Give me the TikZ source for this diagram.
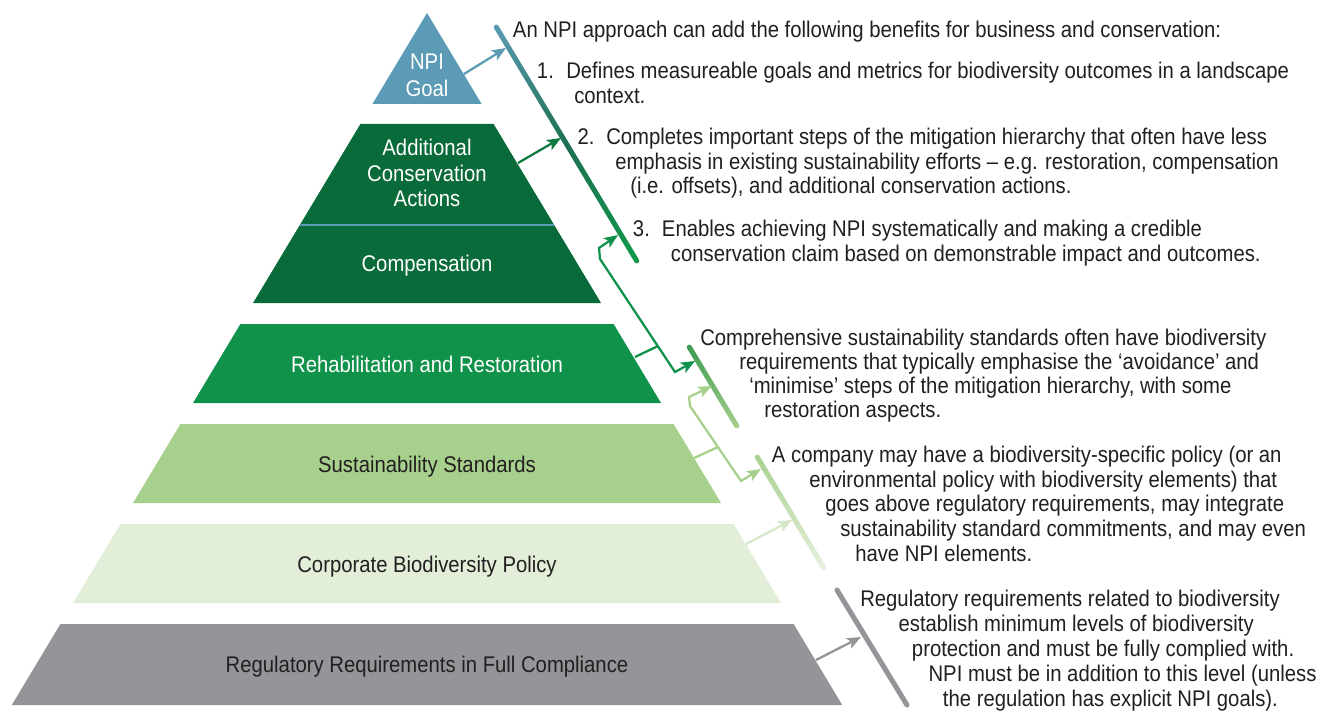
\documentclass[tikz,border=0pt]{standalone}
\usepackage{fontspec}
\setmainfont{Liberation Sans}[FakeStretch=0.895]
\usetikzlibrary{arrows.meta,calc}
\definecolor{npiblue}{HTML}{5B9BB5}
\definecolor{darkgreen}{HTML}{0A6B3A}
\definecolor{midgreen}{HTML}{11924A}
\definecolor{lightgreen}{HTML}{A8D08D}
\definecolor{palegreen}{HTML}{E2EED8}
\definecolor{regray}{HTML}{939598}
\definecolor{textcol}{HTML}{231F20}
\definecolor{arrgreen}{HTML}{0E7A41}
\definecolor{arrpale}{HTML}{D6E7C8}
\definecolor{bartopgreen}{HTML}{3A9A50}
\definecolor{barmid}{HTML}{1C7050}
\definecolor{barbot}{HTML}{109A4B}
\definecolor{barpale}{HTML}{E8F1DF}
\newcommand{\gradbar}[3]{\shade[#3,rounded corners=1.8pt]
  ($(#1)!1.9pt!90:(#2)$) -- ($(#2)!1.9pt!-90:(#1)$) --
  ($(#2)!1.9pt!90:(#1)$) -- ($(#1)!1.9pt!-90:(#2)$) -- cycle;}
\tikzset{
  txt/.style={font=\fontsize{17}{20}\selectfont, text=textcol, inner sep=0pt, anchor=base west},
  plab/.style={font=\fontsize{17}{20}\selectfont, inner sep=0pt, anchor=base},
  conn/.style={line width=1.7pt, -{Stealth[length=10.5pt,width=8.5pt,inset=2.5pt]}},
  conn2/.style={line width=1.7pt, {Stealth[length=10.5pt,width=8.5pt,inset=2.5pt]}-{Stealth[length=10.5pt,width=8.5pt,inset=2.5pt]}},
  plain/.style={line width=1.7pt}
}
\begin{document}
\begin{tikzpicture}[x=0.75pt,y=-0.75pt]
\useasboundingbox (0,0) rectangle (1328,713);
\fill[white] (0,0) rectangle (1328,713);

% pyramid layers
\fill[npiblue] (427,13) -- (481.6,104) -- (372.4,104) -- cycle;
\fill[darkgreen] (360.4,124) -- (493.6,124) -- (601.0,303) -- (253.0,303) -- cycle;
\draw[npiblue, line width=1.6pt] (299.8,225) -- (554.2,225);
\fill[midgreen] (240.4,324) -- (613.6,324) -- (661.0,403) -- (193.0,403) -- cycle;
\fill[lightgreen] (180.4,424) -- (673.6,424) -- (721.0,503) -- (133.0,503) -- cycle;
\fill[palegreen] (120.4,524) -- (733.6,524) -- (781.0,603) -- (73.0,603) -- cycle;
\fill[regray] (60.4,624) -- (793.6,624) -- (842.2,705) -- (11.8,705) -- cycle;

% pyramid labels
\node[plab, text=white] (lnpi1) at (427,70) {NPI};
\node[plab, text=white] (lnpi2) at (427,97) {Goal};
\node[plab, text=white] (ladd1) at (427,156) {Additional};
\node[plab, text=white] (ladd2) at (427,181) {Conservation};
\node[plab, text=white] (ladd3) at (427,206) {Actions};
\node[plab, text=white] (lcomp) at (427,272) {Compensation};
\node[plab, text=white] (lreh) at (427,372) {Rehabilitation and Restoration};
\node[plab, text=textcol] (lsus) at (427,472) {Sustainability Standards};
\node[plab, text=textcol] (lcorp) at (427,572) {Corporate Biodiversity Policy};
\node[plab, text=textcol] (lreg) at (427,672) {Regulatory Requirements in Full Compliance};

% bars
\coordinate (b1t) at (495,25);  \coordinate (b1b) at (638,263);
\coordinate (b2t) at (688,345); \coordinate (b2b) at (738,428);
\coordinate (b3t) at (756,455); \coordinate (b3b) at (825,570);
\coordinate (b4t) at (837,590); \coordinate (b4b) at (907,705);
\gradbar{b1t}{b1b}{top color=npiblue,bottom color=barbot,middle color=barmid}
\gradbar{b2t}{b2b}{top color=bartopgreen,bottom color=lightgreen}
\gradbar{b3t}{b3b}{top color=lightgreen,bottom color=barpale}
\draw[regray, line width=3.8pt, line cap=round] (b4t) -- (b4b);

% connector points
\coordinate (npiR) at (464,74);   \coordinate (t0) at (506,48);
\coordinate (addR) at (518,163);  \coordinate (tA) at (561,138);
\coordinate (t1a) at (618,235);   \coordinate (e1a) at (599,248);
\coordinate (e1m) at (600,259);   \coordinate (e1b) at (675,372);
\coordinate (t1b) at (695,361);
\coordinate (rehR) at (635,357);  \coordinate (j1) at (658,346);
\coordinate (t2a) at (712,386);   \coordinate (e2a) at (689,397);
\coordinate (e2m) at (690,406);   \coordinate (e2b) at (741,481);
\coordinate (t2b) at (761,469);
\coordinate (susR) at (694,458);  \coordinate (j2) at (718,447);
\coordinate (corR) at (746,544);  \coordinate (tC) at (792,520);
\coordinate (regR) at (816,660);  \coordinate (tR) at (861,637);

\draw[conn, npiblue] (npiR) -- (t0);
\draw[conn, arrgreen] (addR) -- (tA);
\draw[conn2, midgreen] (t1a) -- (e1a) -- (e1m) -- (e1b) -- (t1b);
\draw[plain, midgreen] (rehR) -- (j1);
\draw[conn2, lightgreen] (t2a) -- (e2a) -- (e2m) -- (e2b) -- (t2b);
\draw[plain, lightgreen] (susR) -- (j2);
\draw[conn, arrpale] (corR) -- (tC);
\draw[conn, regray] (regR) -- (tR);

% text block A
\node[txt] (a0) at (512.7,38) {An NPI approach can add the following benefits for business and conservation:};
\node[txt] (a1n) at (536.7,79) {1.};
\node[txt] (a1) at (566,79) {Defines measureable goals and metrics for biodiversity outcomes in a landscape};
\node[txt] (a1b) at (574,104) {context.};
\node[txt] (a2n) at (577.3,145) {2.};
\node[txt] (a2) at (606,145) {Completes important steps of the mitigation hierarchy that often have less};
\node[txt] (a2b) at (615,169.5) {emphasis in existing sustainability efforts – e.g. restoration, compensation};
\node[txt] (a2c) at (630,194) {(i.e. offsets), and additional conservation actions.};
\node[txt] (a3n) at (632.7,237) {3.};
\node[txt] (a3) at (661.7,237) {Enables achieving NPI systematically and making a credible};
\node[txt] (a3b) at (670.7,262) {conservation claim based on demonstrable impact and outcomes.};

% text block B
\node[txt] (b1) at (700,345) {Comprehensive sustainability standards often have biodiversity};
\node[txt] (b2) at (739,369) {requirements that typically emphasise the ‘avoidance’ and};
\node[txt] (b3) at (749,393) {‘minimise’ steps of the mitigation hierarchy, with some};
\node[txt] (b4) at (764,417) {restoration aspects.};

% text block C
\node[txt] (c1) at (771.7,462) {A company may have a biodiversity-specific policy (or an};
\node[txt] (c2) at (809,487.5) {environmental policy with biodiversity elements) that};
\node[txt] (c3) at (825,511.5) {goes above regulatory requirements, may integrate};
\node[txt] (c4) at (840,536.5) {sustainability standard commitments, and may even};
\node[txt] (c5) at (855,561.5) {have NPI elements.};

% text block D
\node[txt] (d1) at (860,606.5) {Regulatory requirements related to biodiversity};
\node[txt] (d2) at (898.3,631.5) {establish minimum levels of biodiversity};
\node[txt] (d3) at (911.7,656.5) {protection and must be fully complied with.};
\node[txt] (d4) at (928.3,681.5) {NPI must be in addition to this level (unless};
\node[txt] (d5) at (942.7,706.5) {the regulation has explicit NPI goals).};
\end{tikzpicture}
\end{document}
